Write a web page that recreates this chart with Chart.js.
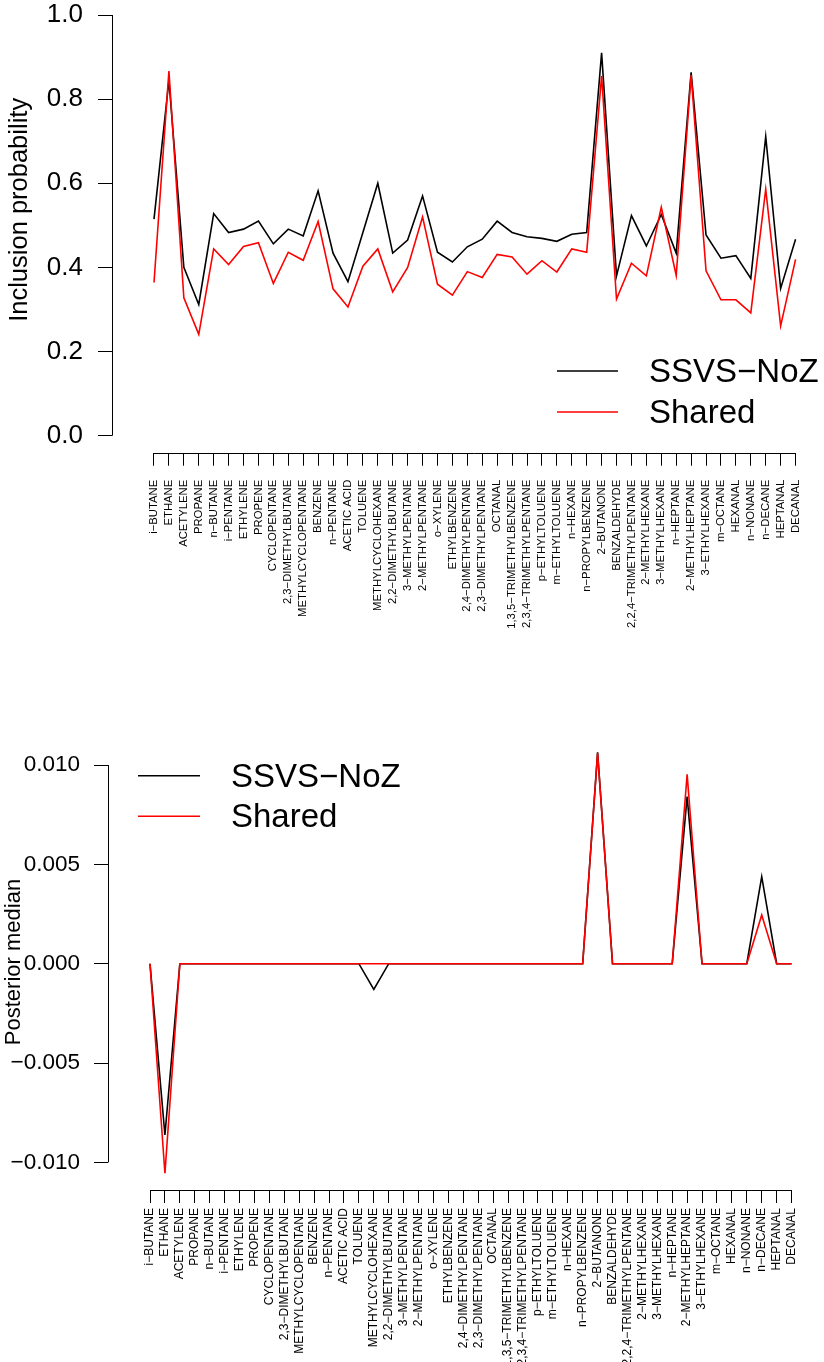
<!DOCTYPE html>
<html><head><meta charset="utf-8">
<script src="https://cdn.jsdelivr.net/npm/chart.js@4.4.0/dist/chart.umd.min.js"></script>
<style>
html,body{margin:0;padding:0;background:#fff;width:824px;height:1362px;overflow:hidden;position:relative}
#c1{position:absolute;left:0;top:-64px}
#c2{position:absolute;left:0;top:700px}
</style></head><body>
<canvas id="c1" width="824" height="700"></canvas>
<canvas id="c2" width="824" height="662"></canvas>
<script>
// ---- data ----
const compounds = ['i−BUTANE','ETHANE','ACETYLENE','PROPANE','n−BUTANE','i−PENTANE','ETHYLENE','PROPENE','CYCLOPENTANE','2,3−DIMETHYLBUTANE','METHYLCYCLOPENTANE','BENZENE','n−PENTANE','ACETIC ACID','TOLUENE','METHYLCYCLOHEXANE','2,2−DIMETHYLBUTANE','3−METHYLPENTANE','2−METHYLPENTANE','o−XYLENE','ETHYLBENZENE','2,4−DIMETHYLPENTANE','2,3−DIMETHYLPENTANE','OCTANAL','1,3,5−TRIMETHYLBENZENE','2,3,4−TRIMETHYLPENTANE','p−ETHYLTOLUENE','m−ETHYLTOLUENE','n−HEXANE','n−PROPYLBENZENE','2−BUTANONE','BENZALDEHYDE','2,2,4−TRIMETHYLPENTANE','2−METHYLHEXANE','3−METHYLHEXANE','n−HEPTANE','2−METHYLHEPTANE','3−ETHYLHEXANE','m−OCTANE','HEXANAL','n−NONANE','n−DECANE','HEPTANAL','DECANAL'];
const seriesNames = ['SSVS−NoZ','Shared'];
const seriesColors = ['#000000','#ff0000'];

const inclusionSSVS = [0.515,0.845,0.400,0.312,0.528,0.483,0.491,0.510,0.456,0.491,0.475,0.582,0.434,0.366,0.483,0.600,0.434,0.465,0.570,0.436,0.413,0.449,0.467,0.510,0.483,0.473,0.469,0.462,0.479,0.483,0.910,0.380,0.523,0.451,0.526,0.434,0.864,0.477,0.422,0.428,0.374,0.711,0.350,0.467];
const inclusionShared = [0.364,0.867,0.328,0.241,0.444,0.407,0.450,0.459,0.362,0.436,0.417,0.509,0.349,0.306,0.403,0.444,0.342,0.400,0.520,0.360,0.334,0.390,0.376,0.431,0.425,0.384,0.416,0.389,0.444,0.436,0.855,0.325,0.410,0.380,0.543,0.381,0.857,0.392,0.323,0.323,0.292,0.586,0.261,0.419];

const medianSSVS = [0,-0.00862,0,0,0,0,0,0,0,0,0,0,0,0,0,-0.00129,0,0,0,0,0,0,0,0,0,0,0,0,0,0,0.01064,0,0,0,0,0,0.00841,0,0,0,0,0.00438,0,0];
const medianShared = [0,-0.01055,0,0,0,0,0,0,0,0,0,0,0,0,0,0,0,0,0,0,0,0,0,0,0,0,0,0,0,0,0.01060,0,0,0,0,0,0.00953,0,0,0,0,0.00245,0,0];

const inclusionTicks = [0,0.2,0.4,0.6,0.8,1.0];
const inclusionTickLabels = ['0.0','0.2','0.4','0.6','0.8','1.0'];
const medianTicks = [-0.01,-0.005,0,0.005,0.01];
const medianTickLabels = ['−0.010','−0.005','0.000','0.005','0.010'];

// ---- helpers ----
const FONT = "'Liberation Sans', Arial, Helvetica, sans-serif";
const pts = arr => arr.map((v,i)=>({x:i,y:v}));

const rAxes = {
  id:'rAxes',
  afterDraw(chart){
    const ctx = chart.ctx, xs = chart.scales.x, ys = chart.scales.y;
    ctx.save();
    ctx.strokeStyle = '#000'; ctx.lineWidth = 1;
    const yt = ys.ticks;
    const ax = Math.round(ys.right) + 0.5;
    ctx.beginPath();
    ctx.moveTo(ax, ys.getPixelForValue(yt[0].value));
    ctx.lineTo(ax, ys.getPixelForValue(yt[yt.length-1].value));
    ctx.stroke();
    const xt = xs.ticks;
    const ay = Math.round(xs.top) + 0.5;
    ctx.beginPath();
    ctx.moveTo(xs.getPixelForValue(xt[0].value), ay);
    ctx.lineTo(xs.getPixelForValue(xt[xt.length-1].value), ay);
    ctx.stroke();
    // legend
    const L = chart.options.plugins.rLegend;
    chart.data.datasets.slice().sort((a,b)=>a.legendIndex-b.legendIndex).forEach((ds,k)=>{
      const y = L.y0 + k*L.dy;
      ctx.strokeStyle = ds.borderColor; ctx.lineWidth = 1.6;
      ctx.beginPath(); ctx.moveTo(L.x0, y); ctx.lineTo(L.x1, y); ctx.stroke();
      ctx.fillStyle = '#000';
      ctx.font = L.size + 'px ' + FONT;
      ctx.textBaseline = 'middle'; ctx.textAlign = 'left';
      ctx.fillText(ds.label, L.tx, y + 2);
    });
    ctx.restore();
  }
};

function makeChart(id, s1, s2, yTicks, yLabels, cfg){
  return new Chart(document.getElementById(id), {
    type:'line',
    data:{datasets:[
      {label:seriesNames[0], data:pts(s1), borderColor:seriesColors[0], borderWidth:1.6, pointRadius:0, tension:0, fill:false, order:2, legendIndex:0},
      {label:seriesNames[1], data:pts(s2), borderColor:seriesColors[1], borderWidth:1.6, pointRadius:0, tension:0, fill:false, order:1, legendIndex:1}
    ]},
    options:{
      responsive:false, animation:false, devicePixelRatio:1,
      layout:{padding:{top:cfg.padTop, left:0, right:0, bottom:0}},
      plugins:{legend:{display:false}, tooltip:{enabled:false}, rLegend:cfg.legend},
      scales:{
        x:{type:'linear', min:cfg.xmin, max:cfg.xmax,
          afterBuildTicks:s=>{s.ticks = compounds.map((_,i)=>({value:i}));},
          afterFit:s=>{s.height = cfg.xh;},
          border:{display:false},
          grid:{drawOnChartArea:false, drawTicks:true, tickLength:13, tickColor:'#000', lineWidth:1},
          ticks:{autoSkip:false, minRotation:90, maxRotation:90, padding:cfg.xpad, color:'#000',
            font:{family:FONT, size:cfg.xfs}, callback:v=>compounds[v]}
        },
        y:{type:'linear', min:cfg.ymin, max:cfg.ymax,
          afterBuildTicks:s=>{s.ticks = yTicks.map(v=>({value:v}));},
          afterFit:s=>{s.width = cfg.yw;},
          border:{display:false},
          grid:{drawOnChartArea:false, drawTicks:true, tickLength:14, tickColor:'#000', lineWidth:1},
          ticks:{padding:cfg.ypad, color:'#000', font:{family:FONT, size:cfg.yfs},
            callback:(v)=>{const k=yTicks.findIndex(t=>Math.abs(t-v)<1e-9); return k>=0?yLabels[k]:'';}},
          title:{display:true, text:cfg.ytitle, color:'#000', font:{family:FONT, size:cfg.tfs}, padding:{top:cfg.tpad,bottom:0}}
        }
      }
    },
    plugins:[rAxes]
  });
}

makeChart('c1', inclusionSSVS, inclusionShared, inclusionTicks, inclusionTickLabels, {
  padTop:31, xh:183.3, xmin:-2.815, xmax:44.906, ymin:-0.0404, ymax:1.1141, yw:112,
  xpad:14, xfs:11.3, ypad:15, yfs:26, ytitle:'Inclusion probability', tfs:25.5, tpad:5,
  legend:{x0:557, x1:618, y0:435, dy:41, tx:649, size:33}
});
makeChart('c2', medianSSVS, medianShared, medianTicks, medianTickLabels, {
  padTop:34, xh:172, xmin:-2.815, xmax:45.174, ymin:-0.011391, ymax:0.011563, yw:108,
  xpad:5, xfs:12, ypad:14, yfs:22.5, ytitle:'Posterior median', tfs:22, tpad:1,
  legend:{x0:138, x1:200, y0:75.7, dy:40.6, tx:231, size:33}
});
</script>
</body></html>
